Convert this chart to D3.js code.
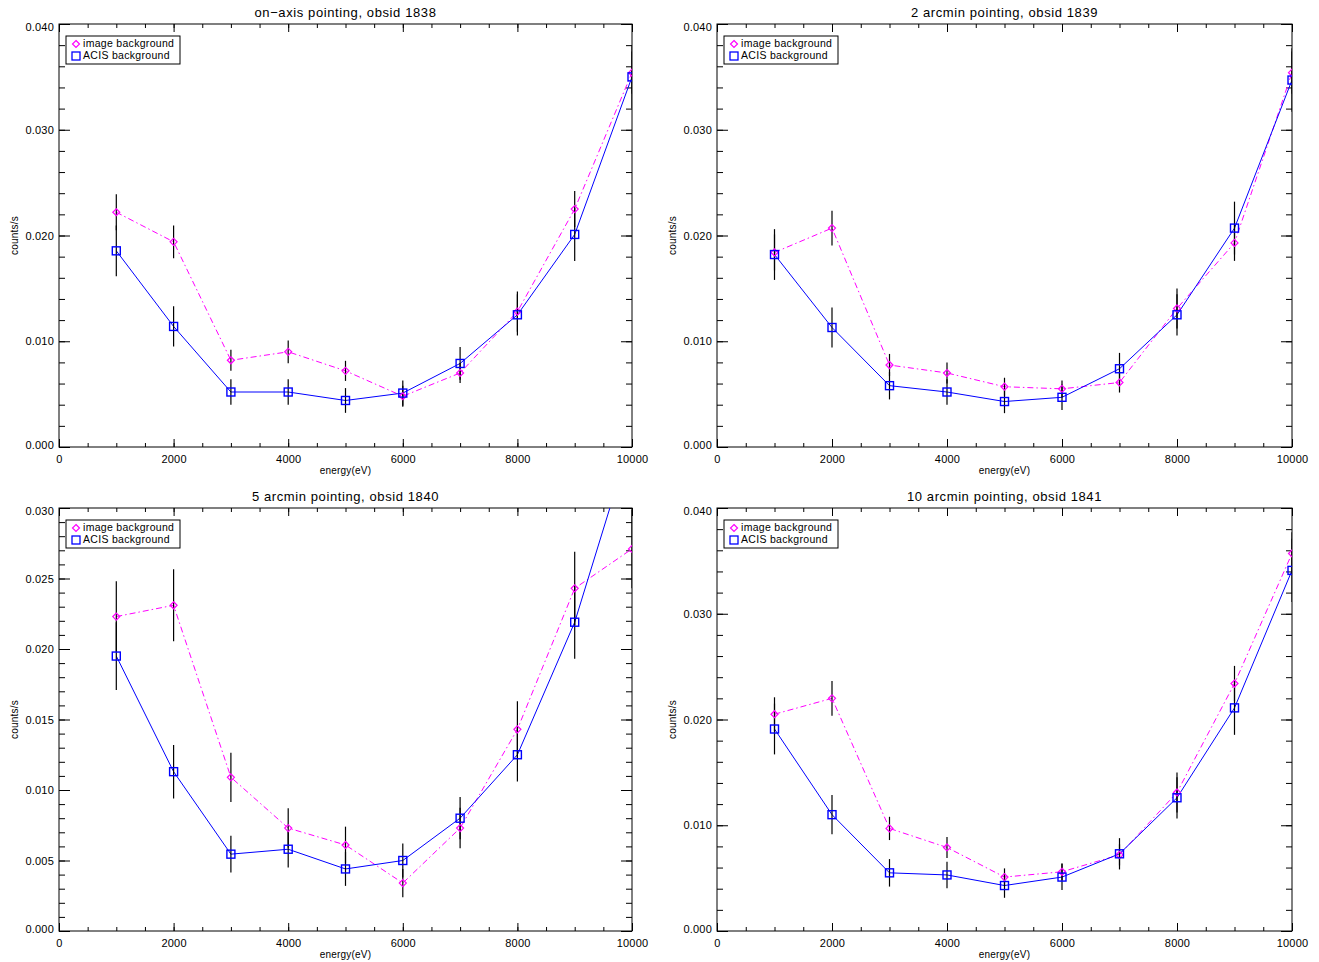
<!DOCTYPE html>
<html>
<head>
<meta charset="utf-8">
<script src="https://cdn.jsdelivr.net/npm/d3@7"></script>
<style>
  html, body { margin: 0; padding: 0; background: #fff; }
  svg { display: block; }
  text { font-family: "Liberation Sans", Arial, Helvetica, sans-serif; fill: #000; }
</style>
</head>
<body>
<svg id="chart" width="1319" height="962"></svg>
<script>
// ---------------- data ----------------
const energies = [1000, 2000, 3000, 4000, 5000, 6000, 7000, 8000, 9000, 10000];
const xTicks = [0, 2000, 4000, 6000, 8000, 10000];
const seriesNames = ["image background", "ACIS background"];
const panelTitles = [
  "on\u2212axis pointing, obsid 1838",
  "2 arcmin pointing, obsid 1839",
  "5 arcmin pointing, obsid 1840",
  "10 arcmin pointing, obsid 1841"
];
const yMaxes = [0.040, 0.040, 0.030, 0.040];
const yTickSteps = [0.010, 0.010, 0.005, 0.010];

// obsid 1838
const img1838 = [0.0222, 0.0194, 0.0082, 0.0090, 0.0072, 0.0048, 0.0070, 0.0128, 0.0225, 0.0354];
const imgErr1838 = [0.0017, 0.00155, 0.0010, 0.00107, 0.00095, 0.0010, 0.00095, 0.0019, 0.0017, 0.0020];
const acis1838 = [0.01855, 0.0114, 0.0052, 0.0052, 0.0044, 0.0051, 0.0079, 0.0125, 0.0201, 0.0350];
const acisErr1838 = [0.0024, 0.0019, 0.0012, 0.0012, 0.00117, 0.0012, 0.00155, 0.00195, 0.0025, 0.0030];
// obsid 1839
const img1839 = [0.0184, 0.0207, 0.00775, 0.0070, 0.0057, 0.0055, 0.0061, 0.0131, 0.0193, 0.0354];
const imgErr1839 = [0.0017, 0.00165, 0.00105, 0.0010, 0.00085, 0.0008, 0.00095, 0.0019, 0.0017, 0.0020];
const acis1839 = [0.0182, 0.0113, 0.0058, 0.0052, 0.0043, 0.0047, 0.0074, 0.0125, 0.0207, 0.0347];
const acisErr1839 = [0.0024, 0.0019, 0.0013, 0.0012, 0.0011, 0.0012, 0.0015, 0.00195, 0.0025, 0.0030];
// obsid 1840
const img1840 = [0.0223, 0.0231, 0.0109, 0.0073, 0.0061, 0.0034, 0.0073, 0.0143, 0.0243, 0.0271];
const imgErr1840 = [0.0025, 0.00255, 0.00175, 0.0014, 0.0013, 0.0010, 0.00144, 0.0020, 0.0026, 0.0028];
const acis1840 = [0.0195, 0.0113, 0.00545, 0.0058, 0.0044, 0.0050, 0.0080, 0.0125, 0.0219, 0.0351];
const acisErr1840 = [0.0024, 0.0019, 0.0013, 0.0013, 0.0012, 0.0012, 0.0015, 0.0019, 0.0026, 0.0030];
// obsid 1841
const img1841 = [0.0205, 0.0220, 0.0097, 0.0079, 0.0051, 0.0056, 0.0072, 0.0131, 0.0234, 0.0357];
const imgErr1841 = [0.0016, 0.00164, 0.0011, 0.0010, 0.00082, 0.0008, 0.0010, 0.0019, 0.00167, 0.0020];
const acis1841 = [0.0191, 0.0110, 0.0055, 0.0053, 0.0043, 0.0051, 0.0073, 0.0126, 0.0211, 0.0341];
const acisErr1841 = [0.0024, 0.00186, 0.0013, 0.00126, 0.00116, 0.00123, 0.00148, 0.00195, 0.00255, 0.0030];

const imgSeries = [img1838, img1839, img1840, img1841];
const imgErrSeries = [imgErr1838, imgErr1839, imgErr1840, imgErr1841];
const acisSeries = [acis1838, acis1839, acis1840, acis1841];
const acisErrSeries = [acisErr1838, acisErr1839, acisErr1840, acisErr1841];

// ---------------- layout ----------------
const panels = [
  {left: 59, right: 632, top: 24, bottom: 447},
  {left: 717, right: 1292, top: 24, bottom: 447},
  {left: 59, right: 632, top: 508, bottom: 931},
  {left: 717, right: 1292, top: 508, bottom: 931}
];
const MAGENTA = "#ff00ff", BLUE = "#0000ff";

const svg = d3.select("#chart");

panels.forEach((p, i) => {
  const x = d3.scaleLinear().domain([0, 10000]).range([p.left, p.right]);
  const yMax = yMaxes[i];
  const y = d3.scaleLinear().domain([0, yMax]).range([p.bottom, p.top]);
  const g = svg.append("g");
  const W = p.right - p.left, H = p.bottom - p.top;

  const clipId = "clip" + i;
  svg.append("clipPath").attr("id", clipId)
    .append("rect").attr("x", p.left).attr("y", p.top).attr("width", W).attr("height", H);

  const yStep = yTickSteps[i];
  const yMajor = d3.range(0, yMax + yStep / 2, yStep);
  const yMinorStep = i === 2 ? 0.001 : 0.002;
  const yMinor = d3.range(0, yMax + yMinorStep / 2, yMinorStep);
  const xMinor = d3.range(0, 10001, 500);
  const fmtY = d3.format(".3f");

  const styleAxis = sel => {
    sel.select(".domain").remove();
    sel.selectAll(".tick line").attr("stroke", "#000").attr("stroke-width", 1);
    sel.selectAll(".tick text").style("font-size", "11px").style("letter-spacing", "0.2px");
  };

  // bottom
  g.append("g").attr("transform", `translate(0,${p.bottom})`)
    .call(d3.axisBottom(x).tickValues(xMinor).tickSizeInner(-4).tickSizeOuter(0).tickFormat(""))
    .call(styleAxis);
  g.append("g").attr("transform", `translate(0,${p.bottom})`)
    .call(d3.axisBottom(x).tickValues(xTicks).tickSizeInner(-8).tickSizeOuter(0).tickPadding(8).tickFormat(d3.format("d")))
    .call(styleAxis);
  // top
  g.append("g").attr("transform", `translate(0,${p.top})`)
    .call(d3.axisTop(x).tickValues(xMinor).tickSizeInner(-4).tickSizeOuter(0).tickFormat(""))
    .call(styleAxis);
  g.append("g").attr("transform", `translate(0,${p.top})`)
    .call(d3.axisTop(x).tickValues(xTicks).tickSizeInner(-8).tickSizeOuter(0).tickFormat(""))
    .call(styleAxis);
  // left
  g.append("g").attr("transform", `translate(${p.left},0)`)
    .call(d3.axisLeft(y).tickValues(yMinor).tickSizeInner(-6).tickSizeOuter(0).tickFormat(""))
    .call(styleAxis);
  g.append("g").attr("transform", `translate(${p.left},0)`)
    .call(d3.axisLeft(y).tickValues(yMajor).tickSizeInner(-11).tickSizeOuter(0).tickPadding(5).tickFormat(fmtY))
    .call(styleAxis)
    .call(sel => sel.selectAll(".tick text").attr("dy", (d) => d === 0 ? "0.1em" : (Math.abs(d - yMax) < 1e-9 ? "0.6em" : "0.32em")));
  // right
  g.append("g").attr("transform", `translate(${p.right},0)`)
    .call(d3.axisRight(y).tickValues(yMinor).tickSizeInner(-6).tickSizeOuter(0).tickFormat(""))
    .call(styleAxis);
  g.append("g").attr("transform", `translate(${p.right},0)`)
    .call(d3.axisRight(y).tickValues(yMajor).tickSizeInner(-11).tickSizeOuter(0).tickFormat(""))
    .call(styleAxis);

  // frame
  g.append("rect").attr("x", p.left).attr("y", p.top).attr("width", W).attr("height", H)
    .attr("fill", "none").attr("stroke", "#000").attr("stroke-width", 1);

  // titles
  g.append("text").attr("x", (p.left + p.right) / 2).attr("y", p.top - 10)
    .attr("text-anchor", "middle").attr("dominant-baseline", "middle")
    .style("font-size", "13px").style("letter-spacing", "0.6px").text(panelTitles[i]);
  g.append("text").attr("x", (p.left + p.right) / 2).attr("y", p.bottom + 24)
    .attr("text-anchor", "middle").attr("dominant-baseline", "middle")
    .style("font-size", "10px").style("letter-spacing", "0.2px").text("energy(eV)");
  g.append("text")
    .attr("transform", `translate(${p.left - 44},${(p.top + p.bottom) / 2}) rotate(-90)`)
    .attr("text-anchor", "middle").attr("dominant-baseline", "middle")
    .style("font-size", "10px").style("letter-spacing", "0.2px").text("counts/s");

  // data
  const plot = g.append("g").attr("clip-path", `url(#${clipId})`);
  const imgData = energies.map((e, k) => ({e, v: imgSeries[i][k], err: imgErrSeries[i][k]}));
  const acisData = energies.map((e, k) => ({e, v: acisSeries[i][k], err: acisErrSeries[i][k]}));
  const line = d3.line().x(d => x(d.e)).y(d => y(d.v));

  plot.append("path").datum(imgData).attr("d", line)
    .attr("fill", "none").attr("stroke", MAGENTA).attr("stroke-width", 1)
    .attr("stroke-dasharray", "6,3,1.5,3");
  plot.append("path").datum(acisData).attr("d", line)
    .attr("fill", "none").attr("stroke", BLUE).attr("stroke-width", 1);

  // error bars
  [imgData, acisData].forEach(data => {
    plot.selectAll(null).data(data).enter().append("line")
      .attr("x1", d => x(d.e)).attr("x2", d => x(d.e))
      .attr("y1", d => y(d.v - d.err)).attr("y2", d => y(d.v + d.err))
      .attr("stroke", "#000").attr("stroke-width", 1.2);
  });

  // markers
  const diamond = (cx, cy, r) => `M${cx},${cy - r}L${cx + r},${cy}L${cx},${cy + r}L${cx - r},${cy}Z`;
  plot.selectAll(null).data(imgData).enter().append("path")
    .attr("d", d => diamond(x(d.e), y(d.v), 3.5))
    .attr("fill", "none").attr("stroke", MAGENTA).attr("stroke-width", 1.2);
  plot.selectAll(null).data(acisData).enter().append("rect")
    .attr("x", d => x(d.e) - 4).attr("y", d => y(d.v) - 4)
    .attr("width", 8).attr("height", 8)
    .attr("fill", "none").attr("stroke", BLUE).attr("stroke-width", 1.4);

  // legend
  const lx = p.left + 7, ly = p.top + 12;
  const leg = g.append("g");
  leg.append("rect").attr("x", lx).attr("y", ly).attr("width", 114).attr("height", 28)
    .attr("fill", "#fff").attr("stroke", "#000").attr("stroke-width", 1);
  leg.append("path").attr("d", diamond(lx + 10, ly + 8, 3.5))
    .attr("fill", "none").attr("stroke", MAGENTA).attr("stroke-width", 1.2);
  leg.append("rect").attr("x", lx + 6).attr("y", ly + 16).attr("width", 8).attr("height", 8)
    .attr("fill", "none").attr("stroke", BLUE).attr("stroke-width", 1.3);
  leg.append("text").attr("x", lx + 17).attr("y", ly + 8).attr("dominant-baseline", "middle")
    .style("font-size", "10.5px").style("letter-spacing", "0.3px").text(seriesNames[0]);
  leg.append("text").attr("x", lx + 17).attr("y", ly + 20).attr("dominant-baseline", "middle")
    .style("font-size", "10.5px").style("letter-spacing", "0.3px").text(seriesNames[1]);
});
</script>
</body>
</html>
